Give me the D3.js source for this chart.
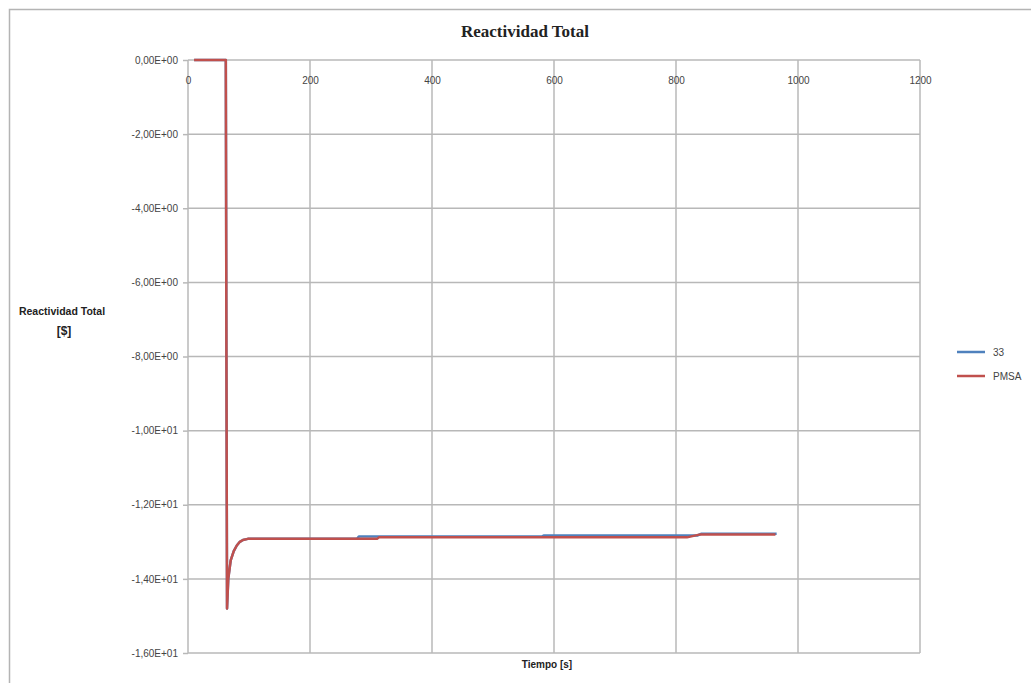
<!DOCTYPE html>
<html>
<head>
<meta charset="utf-8">
<script src="https://cdn.jsdelivr.net/npm/d3@7"></script>
<style>
  body { margin: 0; background: #fff; }
  svg { display: block; }
</style>
</head>
<body>
<div id="canvas"></div>
<script>
var xTicks = [0, 200, 400, 600, 800, 1000, 1200];
var yTicks = [0, -2, -4, -6, -8, -10, -12, -14, -16];
var seriesNames = ['33', 'PMSA'];
var seriesColors = ['#4F81BD', '#C0504D'];

// tiempo [s] and reactividad [$]
var t33 = [10, 62, 63, 64, 66, 70, 75, 80, 85, 90, 98, 277, 280, 580, 583, 835, 842, 965];
var v33 = [0, 0, -8, -14.8, -14.0, -13.5, -13.25, -13.1, -13.0, -12.95, -12.92, -12.92, -12.86, -12.86, -12.83, -12.83, -12.78, -12.78];
var tPMSA = [10, 62, 63, 64, 66, 70, 75, 80, 85, 90, 98, 310, 313, 818, 840, 963];
var vPMSA = [0, 0, -8, -14.8, -14.0, -13.5, -13.25, -13.1, -13.0, -12.95, -12.92, -12.92, -12.88, -12.88, -12.8, -12.8];

var W = 1031, H = 683;
var svg = d3.select('#canvas').append('svg')
    .attr('width', W)
    .attr('height', H);

// outer chart border
svg.append('rect')
    .attr('x', 9.5).attr('y', 9.5)
    .attr('width', 1040).attr('height', 700)
    .attr('fill', '#fff')
    .attr('stroke', '#b4b4b4')
    .attr('stroke-width', 1.5);

var x = d3.scaleLinear().domain([0, 1200]).range([188, 920]);
var y = d3.scaleLinear().domain([-16, 0]).range([653, 60]);

// gridlines
svg.append('g').selectAll('line.vx')
    .data(xTicks).enter().append('line')
    .attr('x1', function(d) { return x(d); })
    .attr('x2', function(d) { return x(d); })
    .attr('y1', y(0)).attr('y2', y(-16))
    .attr('stroke', '#b8b8b8').attr('stroke-width', 1.5);

svg.append('g').selectAll('line.hy')
    .data(yTicks).enter().append('line')
    .attr('x1', x(0)).attr('x2', x(1200))
    .attr('y1', function(d) { return y(d); })
    .attr('y2', function(d) { return y(d); })
    .attr('stroke', '#b8b8b8').attr('stroke-width', 1.5);

function fmtE(v) {
    if (v === 0) return '0,00E+00';
    var s = v.toExponential(2).split('e');
    var exp = parseInt(s[1], 10);
    var e = (exp < 0 ? '-' : '+') + (Math.abs(exp) < 10 ? '0' : '') + Math.abs(exp);
    return s[0].replace('.', ',') + 'E' + e;
}

// y axis
var yAxis = svg.append('g')
    .attr('transform', 'translate(' + x(0) + ',0)')
    .call(d3.axisLeft(y).tickValues(yTicks).tickFormat(fmtE).tickSize(5).tickPadding(5));
yAxis.select('.domain').remove();
yAxis.selectAll('line').attr('stroke', '#b8b8b8').attr('stroke-width', 1.5);
yAxis.selectAll('text')
    .attr('font-family', 'Liberation Sans, Arial, sans-serif')
    .attr('font-size', 10).attr('fill', '#444');

// x axis sits on y = 0
var xAxis = svg.append('g')
    .attr('transform', 'translate(0,' + y(0) + ')')
    .call(d3.axisBottom(x).tickValues(xTicks).tickFormat(d3.format('d')).tickSize(0).tickPadding(17));
xAxis.select('.domain').remove();
xAxis.selectAll('text')
    .attr('font-family', 'Liberation Sans, Arial, sans-serif')
    .attr('font-size', 10).attr('fill', '#444');

var line = d3.line()
    .x(function(d) { return x(d[0]); })
    .y(function(d) { return y(d[1]); });

var series = [d3.zip(t33, v33), d3.zip(tPMSA, vPMSA)];

svg.append('g').selectAll('path')
    .data(series).enter().append('path')
    .attr('d', line)
    .attr('fill', 'none')
    .attr('stroke', function(d, i) { return seriesColors[i]; })
    .attr('stroke-width', 2.5)
    .attr('stroke-linejoin', 'round');

// titles
svg.append('text')
    .attr('x', 525).attr('y', 37)
    .attr('text-anchor', 'middle')
    .attr('font-family', 'Liberation Serif, Times New Roman, serif')
    .attr('font-weight', 'bold')
    .attr('font-size', 17)
    .attr('fill', '#222')
    .text('Reactividad Total');

svg.append('text')
    .attr('x', 547).attr('y', 668)
    .attr('text-anchor', 'middle')
    .attr('font-family', 'Liberation Sans, Arial, sans-serif')
    .attr('font-weight', 'bold')
    .attr('font-size', 10)
    .attr('fill', '#222')
    .text('Tiempo [s]');

var yt = svg.append('text')
    .attr('text-anchor', 'middle')
    .attr('font-family', 'Liberation Sans, Arial, sans-serif')
    .attr('font-weight', 'bold')
    .attr('font-size', 10.5)
    .attr('fill', '#222');
yt.append('tspan').attr('x', 62).attr('y', 315).text('Reactividad Total');
yt.append('tspan').attr('x', 64).attr('y', 335).attr('font-size', 12).text('[$]');

// legend
var legend = svg.append('g').selectAll('g')
    .data(seriesNames).enter().append('g')
    .attr('transform', function(d, i) { return 'translate(957,' + (352 + i * 24) + ')'; });
legend.append('line')
    .attr('x1', 0).attr('x2', 28)
    .attr('stroke', function(d, i) { return seriesColors[i]; })
    .attr('stroke-width', 2.5);
legend.append('text')
    .attr('x', 36).attr('y', 4)
    .attr('font-family', 'Liberation Sans, Arial, sans-serif')
    .attr('font-size', 10).attr('fill', '#444')
    .text(function(d) { return d; });
</script>
</body>
</html>
